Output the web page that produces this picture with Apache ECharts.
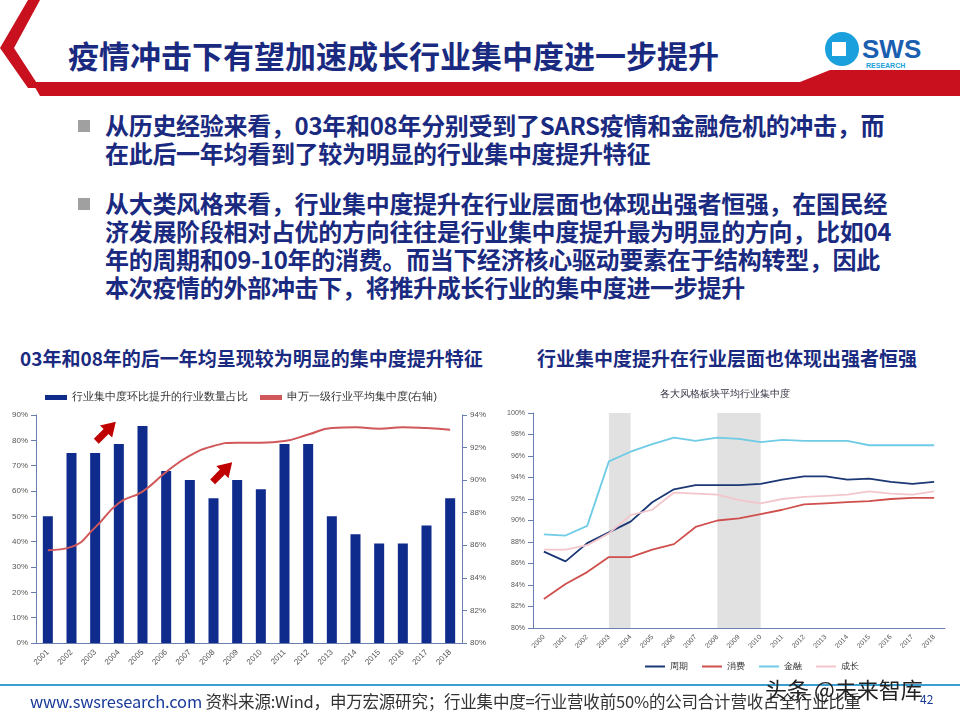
<!DOCTYPE html>
<html><head><meta charset="utf-8">
<script src="https://cdn.jsdelivr.net/npm/echarts@6/dist/echarts.min.js"></script>
<style>
body{margin:0;width:960px;height:720px;position:relative;background:#fff;font-family:"Noto Sans CJK SC","Noto Sans",sans-serif;overflow:hidden}
.a{position:absolute;white-space:nowrap}
#c{position:absolute;left:0;top:0;width:960px;height:720px}
.b{font-size:24px;font-weight:bold;color:#1a2a80;line-height:28px;letter-spacing:-0.3px}
.sq{position:absolute;width:12px;height:12px;background:#a0a0a0}
</style></head><body>
<svg class="a" style="left:0;top:0" width="960" height="100">
<polygon points="28,0 40,0 14,48 40,88 28,88 0,48" fill="#c8101e"/>
<polygon points="32,82 960,82 960,96 40,96" fill="#c8101e"/>
<polygon points="800,82 830,70 960,70 960,82" fill="#c8101e"/>
<circle cx="842" cy="49" r="17" fill="#1aa0dc"/>
<rect x="832" y="42" width="14" height="14" fill="#fff"/>
<text x="862" y="58" font-family="Liberation Sans" font-weight="bold" font-size="26" fill="#1a5fb0">SWS</text>
<text x="866" y="68" font-family="Liberation Sans" font-weight="bold" font-size="7" fill="#1aa0dc">RESEARCH</text>
</svg>
<div class="a" style="left:68px;top:32px;font-size:31px;font-weight:bold;color:#1a2a80">疫情冲击下有望加速成长行业集中度进一步提升</div>
<div class="sq" style="left:78px;top:120px"></div>
<div class="a b" style="left:105px;top:111px">从历史经验来看，03年和08年分别受到了SARS疫情和金融危机的冲击，而<br>在此后一年均看到了较为明显的行业集中度提升特征</div>
<div class="sq" style="left:78px;top:198px"></div>
<div class="a b" style="left:105px;top:189px">从大类风格来看，行业集中度提升在行业层面也体现出强者恒强，在国民经<br>济发展阶段相对占优的方向往往是行业集中度提升最为明显的方向，比如04<br>年的周期和09-10年的消费。而当下经济核心驱动要素在于结构转型，因此<br>本次疫情的外部冲击下，将推升成长行业的集中度进一步提升</div>
<div class="a" style="left:20px;top:344px;font-size:19px;font-weight:bold;color:#1a2a80">03年和08年的后一年均呈现较为明显的集中度提升特征</div>
<div class="a" style="left:537px;top:344px;font-size:19px;font-weight:bold;color:#1a2a80">行业集中度提升在行业层面也体现出强者恒强</div>
<div id="c"></div>
<div class="a" style="left:0;top:684px;width:960px;height:2px;background:#3a9fd0"></div>
<div class="a" style="left:30px;top:689px;font-size:16.5px;color:#1a3a9a;letter-spacing:-0.2px">www.swsresearch.com <span style="color:#333">资料来源:Wind，申万宏源研究；行业集中度=行业营收前50%的公司合计营收占全行业比重</span></div>
<div class="a" style="left:920px;top:690px;font-size:12px;color:#1a3a9a">42</div>
<div class="a" style="left:765px;top:672px;font-size:22px;color:#222">头条 @未来智库</div>
<script>
const years1=['2001','2002','2003','2004','2005','2006','2007','2008','2009','2010','2011','2012','2013','2014','2015','2016','2017','2018'];
const barShare=[50,75,75,78.6,85.7,67.9,64.3,57.1,64.3,60.7,78.6,78.6,50,42.9,39.3,39.3,46.4,57.1];
const avgConc=[85.7,85.9,87.1,88.6,89.3,90.5,91.5,92.1,92.3,92.3,92.4,92.8,93.2,93.25,93.15,93.25,93.2,93.1];
const years2=['2000','2001','2002','2003','2004','2005','2006','2007','2008','2009','2010','2011','2012','2013','2014','2015','2016','2017','2018'];
const cyc=[87.1,86.2,87.9,88.9,89.9,91.7,92.9,93.3,93.3,93.3,93.4,93.8,94.1,94.1,93.8,93.9,93.6,93.4,93.6];
const cons=[82.7,84.1,85.2,86.6,86.6,87.3,87.8,89.4,90.0,90.2,90.6,91.0,91.5,91.6,91.7,91.8,92.0,92.1,92.1];
const fin=[88.7,88.6,89.5,95.5,96.4,97.1,97.7,97.4,97.7,97.6,97.3,97.5,97.4,97.4,97.4,97.0,97.0,97.0,97.0];
const grow=[87.3,87.3,87.7,88.8,90.5,91.0,92.6,92.5,92.4,91.9,91.6,92.0,92.2,92.3,92.4,92.7,92.5,92.4,92.7];
const ch=echarts.init(document.getElementById('c'));
const lab={fontSize:8,color:'#555'};
const axl={lineStyle:{color:'#6a7fb0'}};
const pct=v=>v+'%';
const arrowPath='path://M0,14 L8,6 L5,3 L18,0 L15,13 L12,10 L4,18 Z';
ch.setOption({
animation:false,
title:{text:'各大风格板块平均行业集中度',left:655,top:384,textStyle:{fontSize:10,fontWeight:'normal',color:'#334'}},
legend:[
 {data:[{name:'行业集中度环比提升的行业数量占比',icon:'rect'},{name:'申万一级行业平均集中度(右轴)',icon:'rect'}],left:40,top:387,itemWidth:22,itemHeight:5,itemGap:12,textStyle:{fontSize:10.5,color:'#333'}},
 {data:['周期','消费','金融','成长'],left:640,top:657,itemWidth:20,itemHeight:2,itemGap:14,textStyle:{fontSize:9,color:'#333'},icon:'rect'}
],
grid:[{left:36,right:498,top:415,bottom:77},{left:533,right:15,top:413,bottom:92}],
xAxis:[
 {type:'category',gridIndex:0,data:years1,axisLine:axl,axisTick:{show:false},axisLabel:{...lab,rotate:45,interval:0}},
 {type:'category',gridIndex:1,data:years2,axisLine:axl,axisTick:{lineStyle:{color:'#6a7fb0'}},axisLabel:{...lab,fontSize:7,rotate:45,interval:0}}
],
yAxis:[
 {type:'value',gridIndex:0,min:0,max:90,interval:10,axisLine:{show:true,...axl},axisTick:{show:true},splitLine:{show:false},axisLabel:{...lab,formatter:pct}},
 {type:'value',gridIndex:0,min:80,max:94,interval:2,position:'right',axisLine:{show:true,...axl},axisTick:{show:true},splitLine:{show:false},axisLabel:{...lab,formatter:pct}},
 {type:'value',gridIndex:1,min:80,max:100,interval:2,axisLine:{show:true,...axl},axisTick:{show:true},splitLine:{show:false},axisLabel:{...lab,fontSize:7,formatter:pct}}
],
series:[
 {name:'行业集中度环比提升的行业数量占比',type:'bar',xAxisIndex:0,yAxisIndex:0,data:barShare,barWidth:10,itemStyle:{color:'#0f2b8c'},
  markPoint:{silent:true,symbol:arrowPath,symbolSize:[22,22],itemStyle:{color:'#c00000'},label:{show:false},
   data:[{coord:['2004',83],symbolOffset:[-14,0]},{coord:['2009',67],symbolOffset:[-16,0]}]}},
 {name:'申万一级行业平均集中度(右轴)',type:'line',xAxisIndex:0,yAxisIndex:1,data:avgConc,smooth:true,symbol:'none',lineStyle:{color:'#d0585a',width:2},itemStyle:{color:'#d0585a'}},
 {name:'周期',type:'line',xAxisIndex:1,yAxisIndex:2,data:cyc,symbol:'none',lineStyle:{color:'#1c3775',width:1.8},itemStyle:{color:'#1c3775'},
  markArea:{silent:true,itemStyle:{color:'rgba(200,200,200,0.55)'},data:[[{xAxis:'2003',yAxis:100.3},{xAxis:'2004',yAxis:80}],[{xAxis:'2008',yAxis:100.3},{xAxis:'2010',yAxis:80}]]}},
 {name:'消费',type:'line',xAxisIndex:1,yAxisIndex:2,data:cons,symbol:'none',lineStyle:{color:'#cf4f4d',width:1.8},itemStyle:{color:'#cf4f4d'}},
 {name:'金融',type:'line',xAxisIndex:1,yAxisIndex:2,data:fin,symbol:'none',lineStyle:{color:'#6fcbe6',width:1.8},itemStyle:{color:'#6fcbe6'}},
 {name:'成长',type:'line',xAxisIndex:1,yAxisIndex:2,data:grow,symbol:'none',lineStyle:{color:'#f3c6cb',width:1.8},itemStyle:{color:'#f3c6cb'}}
]});
</script></body></html>
